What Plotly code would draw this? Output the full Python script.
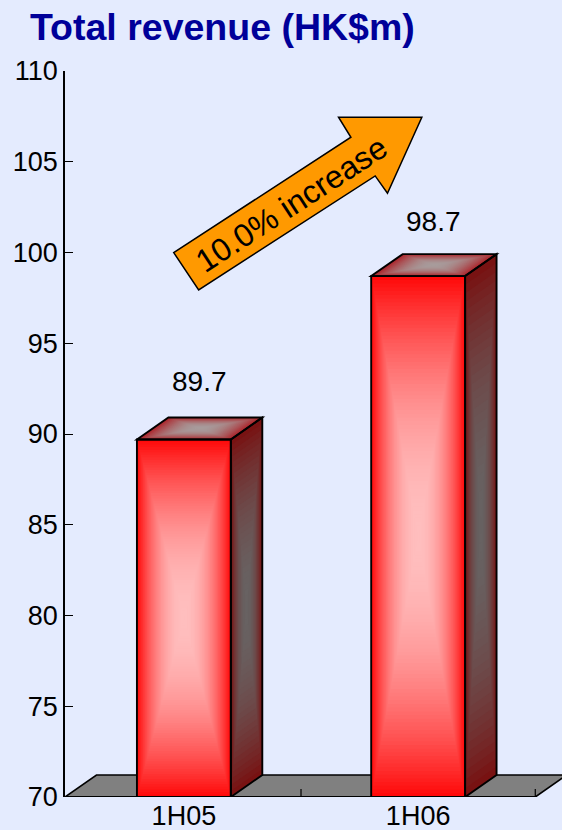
import plotly.graph_objects as go

categories = ["1H05", "1H06"]
revenue = [89.7, 98.7]
value_labels = ["89.7", "98.7"]
label_levels = [92.9, 101.7]
y_ticks = [70, 75, 80, 85, 90, 95, 100, 105, 110]

W, H = 562, 830
L, T, B = 64.5, 71.0, 797.5
BAND = 234.5
X_MIN = (L - 183.5) / BAND
Y0, Y1 = 70, 110
PX_PER_Y = (B - T) / (Y1 - Y0)
X_MAX = X_MIN + (W - L) / BAND
BAR_W = 94 / BAND
DX = 31.5 / BAND
DY = 22 / PX_PER_Y
BG = "#E4EBFE"


def path(pts):
    return "M " + " L ".join(f"{x:.5f},{y:.5f}" for x, y in pts) + " Z"


def poly(pts, fill, line=None, width=0):
    return dict(type="path", xref="x", yref="y", path=path(pts), fillcolor=fill,
                line=dict(color=line or "rgba(0,0,0,0)", width=width), layer="above")


def lerp(a, b, t):
    return "rgb(" + ",".join(str(round(p + (q - p) * t)) for p, q in zip(a, b)) + ")"


def shaded(pts, edge, centre, levels):
    cx = sum(p[0] for p in pts) / len(pts)
    cy = sum(p[1] for p in pts) / len(pts)
    out = []
    for k in range(levels):
        s = 1 - k / levels
        u = k / (levels - 1)
        t = 1 - (1 - u) ** 2
        out.append(poly([(cx + (x - cx) * s, cy + (y - cy) * s) for x, y in pts],
                        lerp(edge, centre, t), None, 0))
    return out


shapes = []
# floor
shapes.append(poly([(X_MIN, Y0), (X_MIN + DX, Y0 + DY), (1.5 + DX, Y0 + DY), (1.5, Y0)],
                   "#808080", "black", 1.6))
for i, v in enumerate(revenue):
    l, r = i - BAR_W / 2, i + BAR_W / 2
    front = [(l, Y0), (l, v), (r, v), (r, Y0)]
    side = [(r, Y0), (r, v), (r + DX, v + DY), (r + DX, Y0 + DY)]
    top = [(l, v), (l + DX, v + DY), (r + DX, v + DY), (r, v)]
    shapes += shaded(front, (255, 10, 10), (255, 190, 190), 70)
    shapes += shaded(side, (120, 18, 18), (104, 98, 98), 30)
    shapes += shaded(top, (172, 36, 42), (168, 155, 155), 24)
    for face in (front, side, top):
        shapes.append(poly(face, "rgba(0,0,0,0)", "black", 1.9))

# baseline and x ticks
shapes.append(dict(type="line", xref="x", yref="y", x0=X_MIN, x1=1.5, y0=Y0, y1=Y0,
                   line=dict(color="black", width=1.9), layer="above"))
for xt in (0.5, 1.5):
    shapes.append(dict(type="line", xref="x", yref="y", x0=xt, x1=xt, y0=Y0, y1=Y0 + 8 / PX_PER_Y,
                       line=dict(color="black", width=1.2), layer="above"))


# increase arrow, placed in plot pixels
def px(x, y):
    return (X_MIN + (x - L) / BAND, Y0 + (B - y) / PX_PER_Y)


arrow_px = [(173.3, 252.7), (350.7, 137.3), (338.3, 117.3), (421.7, 117.3),
            (387.3, 193.3), (375.0, 176.0), (198.3, 290.0)]
shapes.append(poly([px(*p) for p in arrow_px], "#FF9900", "black", 1.5))
ax, ay = px(291.5, 204)

annotations = [
    dict(x=ax, y=ay, xref="x", yref="y", text="10.0% increase", showarrow=False,
         textangle=-33, font=dict(size=32, color="black")),
]
for i, (lab, ly) in enumerate(zip(value_labels, label_levels)):
    annotations.append(dict(x=i + 0.067, y=ly, xref="x", yref="y", text=lab, showarrow=False,
                            font=dict(size=28, color="black")))

fig = go.Figure(go.Bar(x=[0, 1], y=revenue, width=BAR_W, marker=dict(color="#FF0A0A"), hoverinfo="skip"))
fig.update_layout(
    width=W, height=H, autosize=False, showlegend=False,
    paper_bgcolor=BG, plot_bgcolor=BG,
    margin=dict(l=L, r=0, t=T, b=H - B, pad=0),
    font=dict(family="Liberation Sans, Arial, sans-serif", color="black", size=27),
    title=dict(text="<b>Total revenue (HK$m)</b>", x=30 / W, xanchor="left", y=1 - 27 / H, yanchor="middle",
               font=dict(size=37.5, color="#000099", family="Liberation Sans, Arial, sans-serif")),
    xaxis=dict(range=[X_MIN, X_MAX], tickmode="array", tickvals=[0, 1], ticktext=categories,
               showgrid=False, zeroline=False, showline=False, ticks="", ticklen=0,
               tickfont=dict(size=27), automargin=False),
    yaxis=dict(range=[Y0, Y1], tickmode="array", tickvals=y_ticks, showgrid=False, zeroline=False,
               showline=True, linecolor="black", linewidth=1.6, ticks="inside", ticklen=8,
               tickcolor="black", tickwidth=1.4, tickfont=dict(size=27), automargin=False),
    shapes=shapes, annotations=annotations,
)
fig.write_html("out.html", config=dict(displayModeBar=False),
               post_script="document.body.style.margin='0';document.documentElement.style.overflow='hidden';")
